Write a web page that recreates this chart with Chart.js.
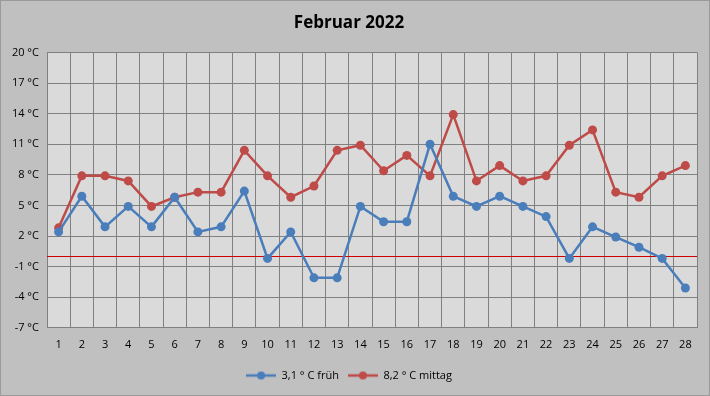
<!DOCTYPE html>
<html>
<head>
<meta charset="utf-8">
<script src="https://cdn.jsdelivr.net/npm/chart.js@4"></script>
<style>
    html, body { margin: 0; padding: 0; background: #c0c0c0; }
    #wrap { width: 710px; height: 396px; box-sizing: border-box; border: 1px solid #9a9a9a; background: #c0c0c0; }
</style>
</head>
<body>
<div id="wrap"><canvas id="tempChart" width="708" height="394"></canvas></div>
<script>
// Tage im Februar
const days = ['1','2','3','4','5','6','7','8','9','10','11','12','13','14','15','16','17','18','19','20','21','22','23','24','25','26','27','28'];

// Temperatur früh
const fruehValues = [2.4, 5.9, 2.9, 4.9, 2.9, 5.8, 2.4, 2.9, 6.4, -0.2, 2.4, -2.1, -2.1, 4.9, 3.4, 3.4, 11.0, 5.9, 4.9, 5.9, 4.9, 3.9, -0.2, 2.9, 1.9, 0.9, -0.2, -3.1];

// Temperatur mittag
const mittagValues = [2.8, 7.9, 7.9, 7.4, 4.9, 5.8, 6.3, 6.3, 10.4, 7.9, 5.8, 6.9, 10.4, 10.9, 8.4, 9.9, 7.9, 13.9, 7.4, 8.9, 7.4, 7.9, 10.9, 12.4, 6.3, 5.8, 7.9, 8.9];

const seriesLabels = ['3,1 ° C früh', '8,2 ° C mittag'];
const seriesColors = ['#4a7ebb', '#be4b48'];

const fontFamily = '"Open Sans", "Liberation Sans", sans-serif';

// Legendensymbol: Linie mit Punkt
function legendSymbol(color) {
    const c = document.createElement('canvas');
    c.width = 30;
    c.height = 10;
    const g = c.getContext('2d');
    g.strokeStyle = color;
    g.lineWidth = 2.5;
    g.beginPath();
    g.moveTo(0, 5);
    g.lineTo(30, 5);
    g.stroke();
    g.fillStyle = color;
    g.beginPath();
    g.arc(15, 5, 4, 0, Math.PI * 2);
    g.fill();
    return c;
}

// Hintergrund der Zeichenfläche und Nulllinie
const plotBackground = {
    id: 'plotBackground',
    beforeDraw(chart) {
        const { ctx, chartArea } = chart;
        ctx.save();
        ctx.fillStyle = '#dadada';
        ctx.fillRect(chartArea.left, chartArea.top, chartArea.right - chartArea.left, chartArea.bottom - chartArea.top);
        ctx.restore();
    },
    beforeDatasetsDraw(chart) {
        const { ctx, chartArea, scales } = chart;
        const y0 = Math.round(scales.y.getPixelForValue(0)) + 0.5;
        ctx.save();
        ctx.strokeStyle = '#d00000';
        ctx.lineWidth = 1;
        ctx.beginPath();
        ctx.moveTo(chartArea.left, y0);
        ctx.lineTo(chartArea.right, y0);
        ctx.stroke();
        ctx.restore();
    }
};

const ctx = document.getElementById('tempChart').getContext('2d');
new Chart(ctx, {
    type: 'line',
    data: {
        labels: days,
        datasets: [{
            label: seriesLabels[0],
            data: fruehValues,
            borderColor: seriesColors[0],
            backgroundColor: seriesColors[0],
            borderWidth: 2.5,
            pointRadius: 4.5,
            pointHoverRadius: 4.5,
            pointBorderWidth: 0,
            tension: 0
        }, {
            label: seriesLabels[1],
            data: mittagValues,
            borderColor: seriesColors[1],
            backgroundColor: seriesColors[1],
            borderWidth: 2.5,
            pointRadius: 4.5,
            pointHoverRadius: 4.5,
            pointBorderWidth: 0,
            tension: 0
        }]
    },
    options: {
        responsive: false,
        animation: false,
        layout: {
            padding: { top: 10, right: 12, left: 0, bottom: 4 }
        },
        plugins: {
            title: {
                display: true,
                text: 'Februar 2022',
                color: '#000',
                font: { family: fontFamily, size: 17, weight: 'bold' },
                padding: { top: 2, bottom: 19 }
            },
            legend: {
                position: 'bottom',
                labels: {
                    usePointStyle: true,
                    pointStyleWidth: 30,
                    boxHeight: 10,
                    color: '#000',
                    font: { family: fontFamily, size: 11 },
                    padding: 9,
                    generateLabels(chart) {
                        return chart.data.datasets.map((ds, i) => ({
                            text: ds.label,
                            pointStyle: legendSymbol(seriesColors[i]),
                            fillStyle: seriesColors[i],
                            strokeStyle: seriesColors[i],
                            lineWidth: 0,
                            hidden: false,
                            datasetIndex: i,
                            fontColor: '#000'
                        }));
                    }
                }
            },
            tooltip: { enabled: false }
        },
        scales: {
            x: {
                offset: true,
                grid: {
                    offset: true,
                    color: '#808080',
                    lineWidth: 1,
                    drawTicks: false
                },
                border: { color: '#808080' },
                ticks: {
                    color: '#000',
                    font: { family: fontFamily, size: 11 },
                    padding: 10,
                    maxRotation: 0,
                    autoSkip: false
                }
            },
            y: {
                min: -7,
                max: 20,
                grid: {
                    color: '#808080',
                    lineWidth: 1,
                    drawTicks: false
                },
                border: { color: '#808080' },
                afterFit(scale) {
                    scale.width = 46;
                },
                ticks: {
                    stepSize: 3,
                    color: '#000',
                    padding: 8,
                    font: { family: fontFamily, size: 11 },
                    callback: value => value + ' °C'
                }
            }
        }
    },
    plugins: [plotBackground]
});
</script>
</body>
</html>
